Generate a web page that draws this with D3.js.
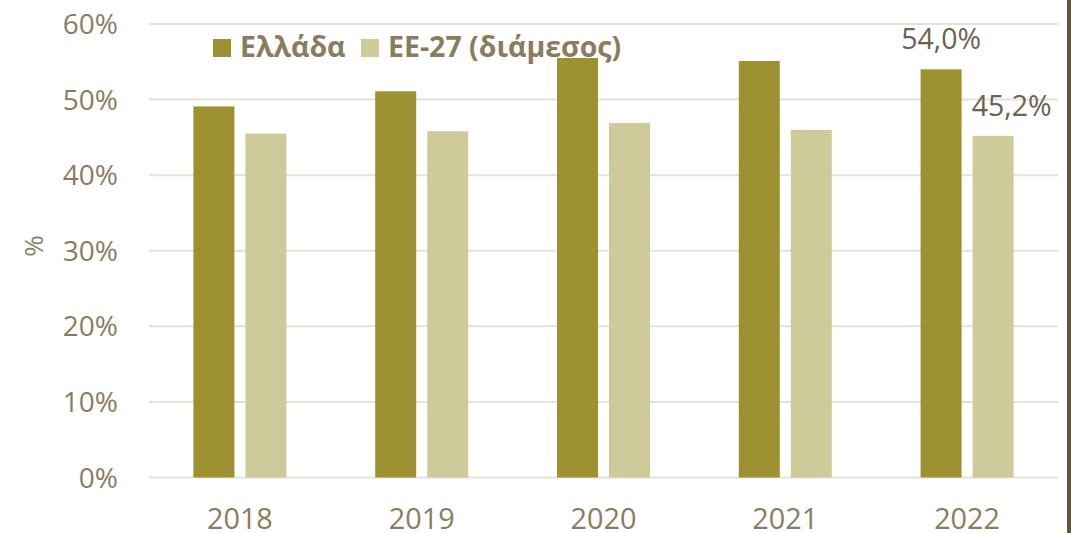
<!DOCTYPE html>
<html>
<head>
<meta charset="utf-8">
<script src="https://cdn.jsdelivr.net/npm/d3@7"></script>
<style>
  body { margin: 0; background: #fff; }
  svg { display: block; font-family: "Open Sans", sans-serif; }
</style>
</head>
<body>
<div id="chart"></div>
<script>
// data
const years = ["2018", "2019", "2020", "2021", "2022"]
const greece = [49.1, 51.1, 55.5, 55.1, 54.0]
const eu27 = [45.5, 45.8, 46.9, 46.0, 45.2]
const seriesNames = ["Ελλάδα", "ΕΕ-27 (διάμεσος)"]
const yTicks = [0, 10, 20, 30, 40, 50, 60]

const WIDTH = 1071, HEIGHT = 533
const margin = { left: 149, right: 13, top: 24, bottom: 55.5 }
const colors = ["#9e9132", "#cfca9a"]
const textColor = "#8a7d5e"

let svg = d3.select("#chart").append("svg")
    .attr("width", WIDTH)
    .attr("height", HEIGHT)

let x = d3.scaleBand().domain(years).range([margin.left, WIDTH - margin.right]).paddingInner(0).paddingOuter(0)
let y = d3.scaleLinear().domain([0, 60]).range([HEIGHT - margin.bottom, margin.top])

// gridlines
svg.append("g").selectAll("line")
    .data(yTicks).enter()
    .append("line")
    .attr("x1", margin.left)
    .attr("x2", WIDTH - margin.right)
    .attr("y1", d => y(d))
    .attr("y2", d => y(d))
    .style("stroke", "#e6e2d8")
    .style("stroke-width", 2)

// y tick labels
svg.append("g").selectAll("text")
    .data(yTicks).enter()
    .append("text")
    .attr("x", 118)
    .attr("y", d => y(d))
    .attr("dy", "0.36em")
    .attr("text-anchor", "end")
    .style("font-size", "28px")
    .style("fill", textColor)
    .text(d => d + "%")

// y axis title
svg.append("text")
    .attr("transform", "translate(34,246) rotate(-90)")
    .attr("text-anchor", "middle")
    .attr("dy", "0.36em")
    .style("font-size", "26px")
    .style("fill", textColor)
    .text("%")

// x labels
svg.append("g").selectAll("text")
    .data(years).enter()
    .append("text")
    .attr("x", d => x(d) + x.bandwidth() / 2)
    .attr("y", 529)
    .attr("text-anchor", "middle")
    .style("font-size", "28.8px")
    .style("fill", textColor)
    .text(d => d)

// legend (bars are drawn over it, as in the source)
let legend = svg.append("g")
let lx = [213, 361]
for (let i = 0; i < seriesNames.length; i++) {
    legend.append("rect")
        .attr("x", lx[i]).attr("y", 39)
        .attr("width", 18).attr("height", 18)
        .attr("fill", colors[i])
    legend.append("text")
        .attr("x", lx[i] + 27)
        .attr("y", 57)
        .style("font-size", "28.5px")
        .style("font-weight", "bold")
        .style("fill", textColor)
        .text(seriesNames[i])
}

// bars
let barW = 41, gap = 11
let series = [greece, eu27]
for (let s = 0; s < series.length; s++) {
    svg.append("g").selectAll("rect")
        .data(series[s]).enter()
        .append("rect")
        .attr("x", (d, i) => x(years[i]) + x.bandwidth() / 2 - barW - gap / 2 + s * (barW + gap))
        .attr("width", barW)
        .attr("y", d => y(d))
        .attr("height", d => y(0) - y(d))
        .attr("fill", colors[s])
}

// data labels for the last year
let last = years.length - 1
let fmt = v => v.toFixed(1).replace(".", ",") + "%"
svg.append("text")
    .attr("x", x(years[last]) + x.bandwidth() / 2 - gap / 2 - barW / 2)
    .attr("y", y(greece[last]) - 20)
    .attr("text-anchor", "middle")
    .style("font-size", "28.5px")
    .style("fill", "#6b6350")
    .text(fmt(greece[last]))
svg.append("text")
    .attr("x", x(years[last]) + x.bandwidth() / 2 + gap / 2 + barW / 2 + 18.6)
    .attr("y", y(eu27[last]) - 20)
    .attr("text-anchor", "middle")
    .style("font-size", "28.5px")
    .style("fill", "#6b6350")
    .text(fmt(eu27[last]))

// right border line
svg.append("rect")
    .attr("x", 1067).attr("y", 0)
    .attr("width", 4).attr("height", HEIGHT)
    .attr("fill", "#5f573f")
</script>
</body>
</html>
